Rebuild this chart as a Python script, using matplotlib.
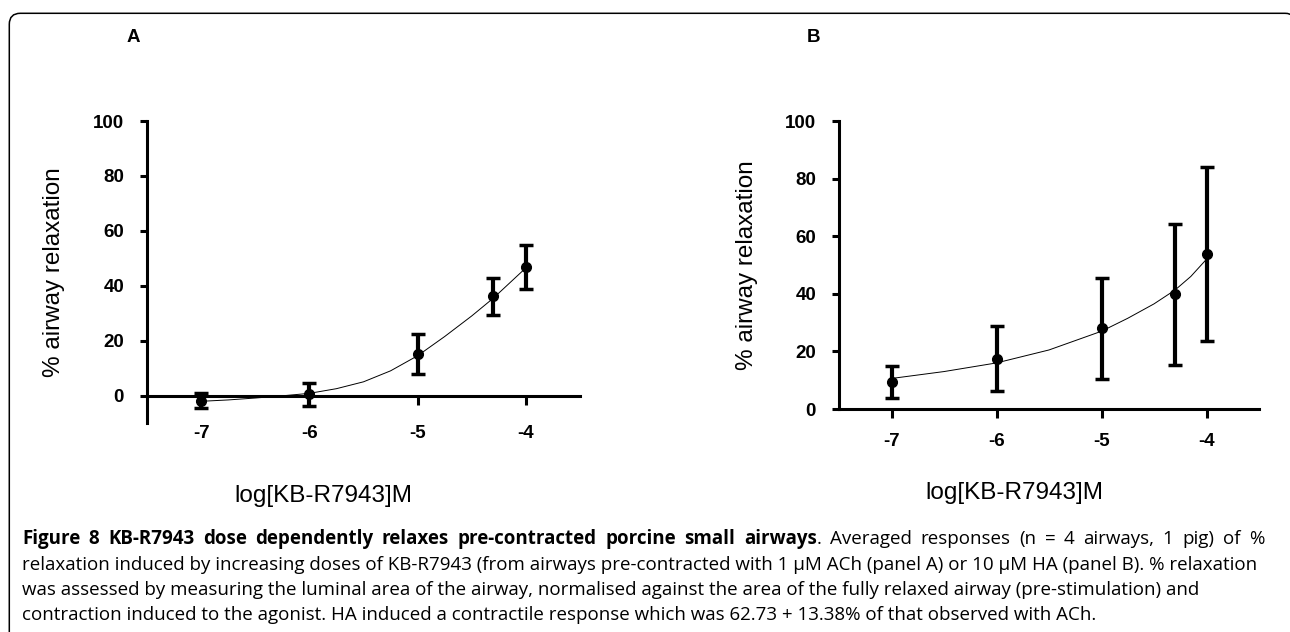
import matplotlib
matplotlib.use('Agg')
import matplotlib.pyplot as plt
from matplotlib.path import Path
from matplotlib.patches import PathPatch

W, H = 1290, 632
DPI = 100

# ---------------- data ----------------
log_dose = [-7, -6, -5, -4.3, -4]
a_mean = [-1.9, 0.4, 15.2, 36.2, 46.9]
a_err = [2.8, 4.2, 7.2, 6.7, 8.0]
b_mean = [9.3, 17.4, 28.0, 39.8, 53.8]
b_err = [5.6, 11.3, 17.5, 24.6, 30.2]

a_fit_x = [-7.0, -6.75, -6.5, -6.25, -6.0, -5.75, -5.5, -5.25, -5.0, -4.75, -4.5, -4.3, -4.15, -4.0]
a_fit_y = [-2.1, -1.6, -0.9, -0.1, 0.8, 2.5, 5.0, 9.0, 14.5, 21.5, 29.0, 35.5, 41.0, 46.5]
b_fit_x = [-7.0, -6.5, -6.0, -5.5, -5.0, -4.75, -4.5, -4.3, -4.15, -4.0]
b_fit_y = [10.6, 13.0, 16.0, 20.5, 27.0, 31.5, 36.5, 41.3, 46.0, 52.0]

x_ticks = [-7, -6, -5, -4]
y_ticks = [0, 20, 40, 60, 80, 100]

panel_titles = ['A', 'B']
y_label = '% airway relaxation'
x_label = 'log[KB-R7943]M'

cap_bold = 'Figure 8 KB-R7943 dose dependently relaxes pre-contracted porcine small airways'
cap_line1 = '. Averaged responses (n = 4 airways, 1 pig) of %'
cap_lines = [
    'relaxation induced by increasing doses of KB-R7943 (from airways pre-contracted with 1 \u00b5M ACh (panel A) or 10 \u00b5M HA (panel B). % relaxation',
    'was assessed by measuring the luminal area of the airway, normalised against the area of the fully relaxed airway (pre-stimulation) and',
    'contraction induced to the agonist. HA induced a contractile response which was 62.73 + 13.38% of that observed with ACh.',
]

# ---------------- figure ----------------
fig = plt.figure(figsize=(W / DPI, H / DPI), dpi=DPI)
fig.patch.set_facecolor('white')

AXFONT = 'Liberation Sans'


def px_axes(l, t, r, b):
    return fig.add_axes([l / W, 1 - b / H, (r - l) / W, (b - t) / H])


def style_panel(ax, ylo, xpad, mean, err, fx, fy, xlab_px, box):
    l, t, r, b = box
    ax.set_xlim(-7.5, -3.5)
    ax.set_ylim(ylo, 100)
    ax.patch.set_alpha(0)
    for s in ('top', 'right'):
        ax.spines[s].set_visible(False)
    ax.spines['left'].set_linewidth(2.2)
    ax.spines['bottom'].set_linewidth(2.2)
    ax.spines['bottom'].set_position(('data', 0))
    ax.set_xticks(x_ticks)
    ax.set_yticks(y_ticks)
    ax.set_xticklabels([str(v) for v in x_ticks])
    ax.set_yticklabels([str(v) for v in y_ticks])
    ax.tick_params(axis='x', direction='out', length=6.5, width=2.2, pad=xpad,
                   labelsize=13.5)
    ax.tick_params(axis='y', direction='out', length=5, width=2.2, pad=11.5,
                   labelsize=13.5)
    for lab in ax.get_xticklabels() + ax.get_yticklabels():
        lab.set_fontfamily(AXFONT)
        lab.set_fontweight('bold')
    ax.plot(fx, fy, color='black', lw=0.7, zorder=3)
    ax.errorbar(log_dose, mean, yerr=err, fmt='o', color='black', ms=7,
                elinewidth=3.0, capsize=4.7, capthick=2.5, zorder=4, clip_on=False)
    ax.set_ylabel(y_label, fontfamily=AXFONT, fontsize=17.5)
    ax.set_xlabel(x_label, fontfamily=AXFONT, fontsize=17.5)
    xl, yl = xlab_px
    ax.xaxis.set_label_coords((xl - l) / (r - l), (b - yl) / (b - t))
    ax.xaxis.label.set_va('baseline')


boxA = (147, 121, 580, 423)
boxB = (839, 121, 1259, 409)
axA = px_axes(*boxA)
axB = px_axes(*boxB)
style_panel(axA, -10, 15, a_mean, a_err, a_fit_x, a_fit_y, (323, 502), boxA)
style_panel(axB, 0, 10.5, b_mean, b_err, b_fit_x, b_fit_y, (1014, 499), boxB)

for ax, box, (xp, yp) in ((axA, boxA, (54, 272)), (axB, boxB, (747, 265))):
    l, t, r, b = box
    ax.yaxis.set_label_coords((xp - l) / (r - l), (b - yp) / (b - t))
    ax.yaxis.label.set_va('center')
    ax.yaxis.label.set_ha('center')

for txt, xp in zip(panel_titles, (133.5, 813)):
    fig.text(xp / W, 1 - 38 / H, txt, ha='center', va='center', fontsize=13.5,
             fontweight='bold', fontfamily=AXFONT)

# ---------------- border (rounded box, extends past right/bottom) ----------------
r0 = 11
L, T, R, B = 9.3, 13.3, 1296, 700


def P(x, y):
    return (x / W, 1 - y / H)


verts = [P(L, B), P(L, T + r0), P(L, T), P(L + r0, T), P(R - r0, T), P(R, T), P(R, T + r0), P(R, B)]
codes = [Path.MOVETO, Path.LINETO, Path.CURVE3, Path.CURVE3, Path.LINETO, Path.CURVE3, Path.CURVE3, Path.LINETO]
fig.patches.append(PathPatch(Path(verts, codes), transform=fig.transFigure, fill=False,
                             edgecolor='black', lw=1.1, clip_on=False))

# ---------------- caption ----------------
CAPFONT = 'Open Sans'
renderer = fig.canvas.get_renderer()


def text_w(s, size, weight='normal'):
    t = fig.text(0, 0, s, fontsize=size, fontfamily=CAPFONT, fontweight=weight)
    w = t.get_window_extent(renderer).width
    t.remove()
    return w


cap_size = 12 * (1252 - 22) / text_w(cap_lines[0], 12)
baselines = [544, 569.5, 595, 620.5]
X0 = 22

# first line: justified to the right margin, bold lead-in then regular text
bold_words = cap_bold.split(' ')
reg_words = cap_line1.split(' ')
tokens = [(w, 'bold', i > 0) for i, w in enumerate(bold_words)]
tokens.append(('.', 'normal', False))
tokens += [(w, 'normal', True) for w in reg_words[1:]]

space_w = text_w('x x', cap_size) - text_w('xx', cap_size)
widths = [text_w(tok, cap_size, wt) for tok, wt, _ in tokens]
n_gaps = sum(1 for _, _, sp in tokens if sp)
natural = sum(widths) + n_gaps * space_w
extra = max(0.0, (1264 - X0 - natural) / n_gaps)

x = X0
for (tok, wt, sp), w in zip(tokens, widths):
    if sp:
        x += space_w + extra
    fig.text(x / W, 1 - baselines[0] / H, tok, fontsize=cap_size, fontweight=wt,
             fontfamily=CAPFONT, va='baseline', ha='left')
    x += w

for yb, line in zip(baselines[1:], cap_lines):
    fig.text(X0 / W, 1 - yb / H, line, fontsize=cap_size, fontfamily=CAPFONT,
             va='baseline', ha='left')

fig.savefig('out.png', dpi=DPI, facecolor='white')
